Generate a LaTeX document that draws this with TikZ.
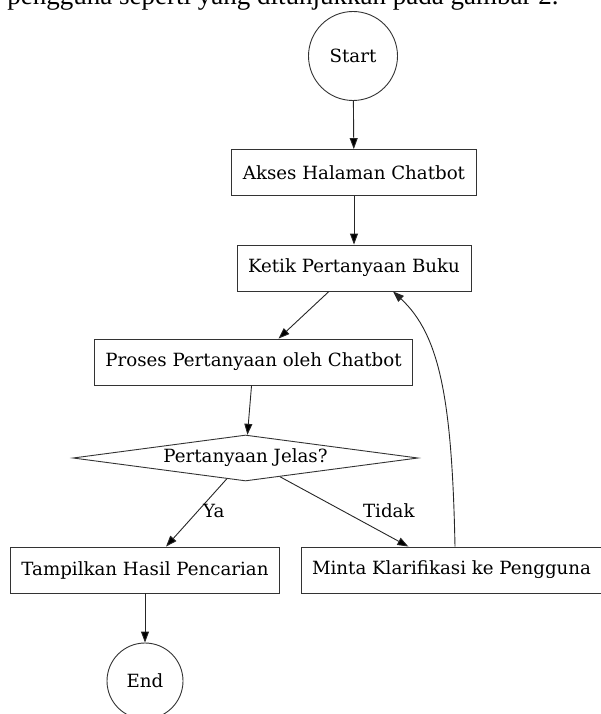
\documentclass[tikz,border=0pt]{standalone}
\usepackage{fontspec}
\setmainfont{DejaVu Serif}
\newfontfamily\introfont{Liberation Serif}
\usetikzlibrary{positioning}
\usetikzlibrary{shapes.geometric}
\usetikzlibrary{arrows.meta}

\begin{document}
\begin{tikzpicture}[x=1pt,y=-1pt,
    font=\fontsize{18.2}{22}\selectfont,
    every node/.style={draw=black!80,line width=0.9pt},
    stepbox/.style={rectangle,minimum height=46pt,inner xsep=11pt},
    terminal/.style={circle,inner sep=0pt},
    decision/.style={diamond,aspect=7.5,inner sep=0pt,minimum width=345pt,minimum height=46pt},
    flow/.style={-{Stealth[inset=0pt,length=11pt,width=8pt]},draw=black!85,line width=0.9pt}]
\useasboundingbox (0,0) rectangle (601,714);
\clip (0,0) rectangle (601,714);
\node[draw=none,anchor=base west,inner sep=0pt,font=\introfont\fontsize{27}{31}\selectfont] (intro) at (7,5) {pengguna seperti yang ditunjukkan pada gambar 2.};
\node[terminal,minimum size=89pt] (start) at (353,56) {Start};
\node[stepbox] (akses) at (354,172.5) {Akses Halaman Chatbot};
\node[stepbox] (ketik) at (354,268) {Ketik Pertanyaan Buku};
\node[stepbox] (proses) at (253.5,362) {Proses Pertanyaan oleh Chatbot};
\node[decision] (cek) at (245.5,458) {Pertanyaan Jelas?};
\node[stepbox] (tampil) at (145,570) {Tampilkan Hasil Pencarian};
\node[stepbox] (minta) at (451.5,570) {Minta Klarifikasi ke Pengguna};
\node[terminal,minimum size=76pt] (end) at (145,681) {End};
\path[flow] (start) edge (akses)
  (akses) edge (ketik)
  (ketik) edge (proses)
  (proses) edge (cek)
  (cek) edge node [draw=none,right,pos=0.48,inner sep=1pt,xshift=4pt] {Ya} (tampil)
  (cek) edge node [draw=none,above right,pos=0.55,inner sep=1pt,xshift=11pt,yshift=-4pt] {Tidak} (minta)
  (tampil) edge (end);
\draw[flow] ([xshift=3.5pt]minta.north) .. controls (452,400) and (440,335) .. ([xshift=39pt]ketik.south);
\end{tikzpicture}
\end{document}
